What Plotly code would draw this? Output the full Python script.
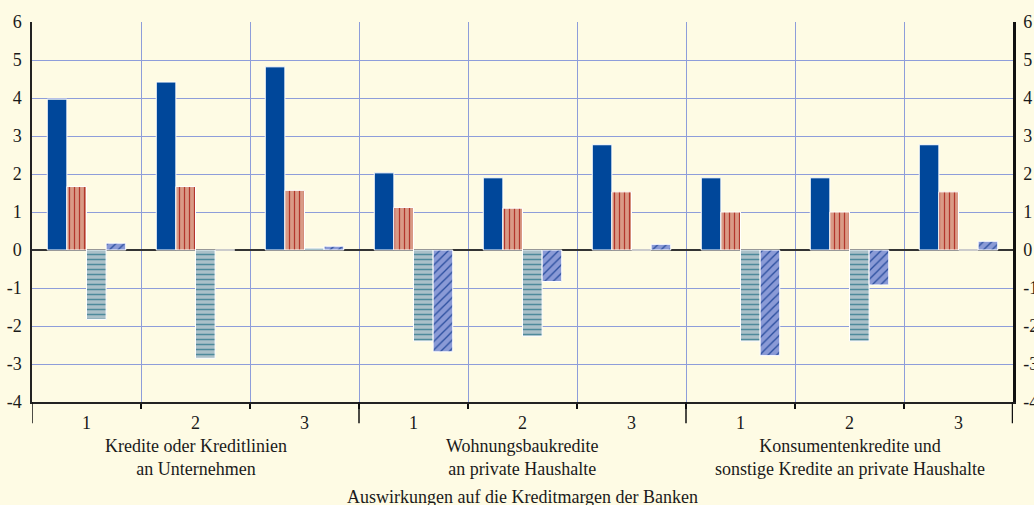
import plotly.graph_objects as go

# ---- data ----
group_labels = [
    "Kredite oder Kreditlinien<br>an Unternehmen",
    "Wohnungsbaukredite<br>an private Haushalte",
    "Konsumentenkredite und<br>sonstige Kredite an private Haushalte",
]
sub_labels = ["1", "2", "3", "1", "2", "3", "1", "2", "3"]
x_title = "Auswirkungen auf die Kreditmargen der Banken"

s_blue = [3.97, 4.42, 4.82, 2.03, 1.90, 2.77, 1.90, 1.90, 2.77]
s_red = [1.67, 1.67, 1.57, 1.12, 1.10, 1.53, 1.00, 1.00, 1.53]
s_teal = [-1.83, -2.85, 0.05, -2.40, -2.27, 0.0, -2.40, -2.40, 0.0]
s_hatch = [0.18, 0.0, 0.10, -2.68, -0.83, 0.15, -2.78, -0.92, 0.23]

y_ticks = [6, 5, 4, 3, 2, 1, 0, -1, -2, -3, -4]
y_ticktext = ["6", "5", "4", "3", "2", "1", "0", "-1", "-2", "-3", "-4"]

# ---- styling ----
BG = "#FEFBE4"
GRID = "#8E9DDA"
FONT = "Liberation Serif"
FS = 18
TXT = "#1a1a1a"
xpos = list(range(len(sub_labels)))

fig = go.Figure()

fig.add_trace(go.Bar(
    x=xpos, y=s_blue, name="s1",
    marker=dict(color="#00479A", line=dict(color="white", width=1)),
))
fig.add_trace(go.Bar(
    x=xpos, y=s_red, name="s2",
    marker=dict(color="#D99A86", line=dict(color="white", width=1),
                pattern=dict(shape="|", size=5, solidity=0.25,
                             fgcolor="#B3362C", bgcolor="#D99A86", fillmode="replace")),
))
fig.add_trace(go.Bar(
    x=xpos, y=s_teal, name="s3",
    marker=dict(color="#AAC0C8", line=dict(color="white", width=1),
                pattern=dict(shape="-", size=5, solidity=0.3,
                             fgcolor="#4E8A9B", bgcolor="#AAC0C8", fillmode="replace")),
))
fig.add_trace(go.Bar(
    x=xpos, y=s_hatch, name="s4",
    marker=dict(color="#8A9AD6", line=dict(color="white", width=1),
                pattern=dict(shape="/", size=6, solidity=0.22,
                             fgcolor="#2A4E9E", bgcolor="#8A9AD6", fillmode="replace")),
))
# invisible trace to activate the right-hand axis
fig.add_trace(go.Scatter(x=[0], y=[0], yaxis="y2", mode="markers",
                         marker=dict(opacity=0), showlegend=False, hoverinfo="skip"))

bounds = [i + 0.5 for i in range(len(sub_labels) - 1)]

fig.update_layout(
    width=1034, height=505,
    margin=dict(l=32, r=21, t=22, b=103, autoexpand=False),
    paper_bgcolor=BG, plot_bgcolor=BG,
    showlegend=False,
    barmode="group", bargap=0.28, bargroupgap=0.0,
    font=dict(family=FONT, size=FS, color=TXT),
    xaxis=dict(
        range=[-0.5, len(sub_labels) - 0.5], automargin=False,
        tickmode="array", tickvals=xpos, ticktext=sub_labels,
        ticks="", showgrid=False, zeroline=False,
        showline=True, linecolor="#222", linewidth=1.5,
        ticklabelstandoff=4,
        tickfont=dict(family=FONT, size=FS, color=TXT),
        minor=dict(tickmode="array", tickvals=bounds, ticks="outside",
                   ticklen=5, tickwidth=2, tickcolor="#111",
                   showgrid=True, gridcolor=GRID, gridwidth=1),
    ),
    yaxis=dict(
        range=[-4, 6], automargin=False,
        tickmode="array", tickvals=y_ticks, ticktext=y_ticktext,
        showgrid=True, gridcolor=GRID, gridwidth=1,
        zeroline=True, zerolinecolor="#333", zerolinewidth=1.5,
        showline=True, linecolor="#222", linewidth=1.5,
        ticks="", ticklabelstandoff=5,
        tickfont=dict(family=FONT, size=FS, color=TXT),
    ),
    yaxis2=dict(
        range=[-4, 6], automargin=False,
        tickmode="array", tickvals=y_ticks, ticktext=y_ticktext,
        overlaying="y", side="right", showgrid=False, zeroline=False,
        showline=True, linecolor="#111", linewidth=2.5,
        ticks="", ticklabelstandoff=4,
        tickfont=dict(family=FONT, size=FS, color=TXT),
    ),
)

# longer separators below the x axis at category boundaries
long_ticks = [-0.5, 2.5, 5.5, len(sub_labels) - 0.5]
for i, xv in enumerate(long_ticks):
    fig.add_shape(type="line", xref="x", yref="paper",
                  x0=xv, x1=xv, y0=0, y1=-0.056,
                  line=dict(color="#111", width=2.5 if i == len(long_ticks) - 1 else 1.5))

# group labels
for i, lab in enumerate(group_labels):
    fig.add_annotation(x=3 * i + 1, y=0, xref="x", yref="paper",
                       yanchor="top", yshift=-32, text=lab, showarrow=False,
                       font=dict(family=FONT, size=FS, color=TXT))

fig.add_annotation(x=0.5, y=0, xref="paper", yref="paper", yanchor="top",
                   yshift=-83, text=x_title, showarrow=False,
                   font=dict(family=FONT, size=FS, color=TXT))

fig.write_html("out.html", config={"displayModeBar": False},
               post_script="document.body.style.margin='0';")
